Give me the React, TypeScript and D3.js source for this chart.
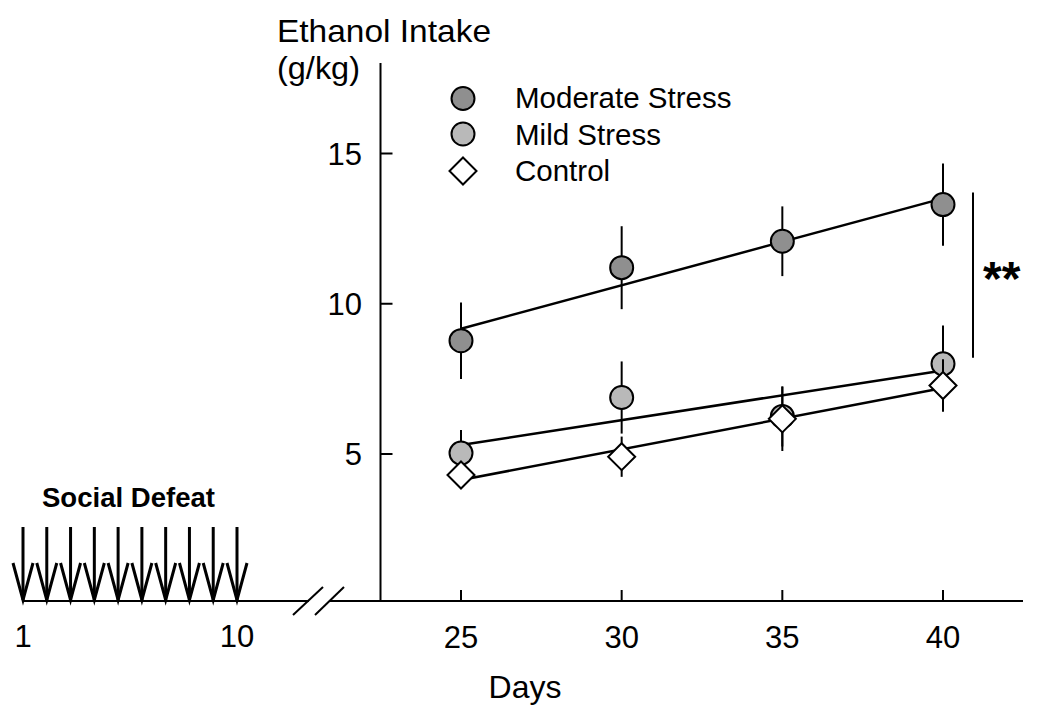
import React from "react";
import * as d3 from "d3";

// ---- data ----
const days = [25, 30, 35, 40];
const moderateMean = [8.77, 11.2, 12.08, 13.3];
const moderateErr = [1.27, 1.38, 1.16, 1.37];
const mildMean = [5.03, 6.88, 6.25, 8.0];
const mildErr = [0.77, 1.2, 1.0, 1.28];
const controlMean = [4.3, 4.91, 6.17, 7.28];
const controlErr = [0.4, 0.67, 1.07, 0.87];
const yTicks = [5, 10, 15];
const xTicks = [25, 30, 35, 40];
const defeatDays = [1, 2, 3, 4, 5, 6, 7, 8, 9, 10];
const defeatLabels = [1, 10];
const legendNames = ["Moderate Stress", "Mild Stress", "Control"];
const sigRange = [8.2, 13.7];

const W = 1050;
const H = 716;
const FONT = "Arial, 'Liberation Sans', Helvetica, sans-serif";

export default function App() {
  const x = d3.scaleLinear().domain([25, 40]).range([461, 943]);
  const y = d3.scaleLinear().domain([5, 15]).range([454, 153.5]);
  const xl = d3.scaleLinear().domain([1, 10]).range([23, 237]);
  const axisY = 601;
  const axisX = 380.5;

  const fit = (vals: number[]) => {
    const mx = d3.mean(days)!;
    const my = d3.mean(vals)!;
    let sxy = 0, sxx = 0;
    days.forEach((d, i) => {
      sxy += (d - mx) * (vals[i] - my);
      sxx += (d - mx) * (d - mx);
    });
    const b = sxy / sxx;
    return (d: number) => my + b * (d - mx);
  };

  const series = [
    { name: legendNames[0], mean: moderateMean, err: moderateErr, fill: "#8f8f8f", shape: "circle" },
    { name: legendNames[1], mean: mildMean, err: mildErr, fill: "#b9b9b9", shape: "circle" },
    { name: legendNames[2], mean: controlMean, err: controlErr, fill: "#ffffff", shape: "diamond" },
  ];

  const line = d3
    .line<[number, number]>()
    .x((d) => x(d[0]))
    .y((d) => y(d[1]));

  const marker = (shape: string, cx: number, cy: number, fill: string, key: string) =>
    shape === "circle" ? (
      <circle key={key} cx={cx} cy={cy} r={11.5} fill={fill} stroke="#000" strokeWidth={2} />
    ) : (
      <path
        key={key}
        d={`M${cx},${cy - 13.5}L${cx + 13.5},${cy}L${cx},${cy + 13.5}L${cx - 13.5},${cy}Z`}
        fill={fill}
        stroke="#000"
        strokeWidth={2}
      />
    );

  return (
    <svg
      width={W}
      height={H}
      style={{ position: "absolute", left: 0, top: 0, background: "#fff" }}
      fontFamily={FONT}
    >
      <rect width={W} height={H} fill="#fff" />
      {/* y axis */}
      <line x1={axisX} y1={63} x2={axisX} y2={axisY + 1} stroke="#000" strokeWidth={2} />
      {yTicks.map((t) => (
        <g key={t}>
          <line x1={axisX} x2={axisX + 12} y1={y(t)} y2={y(t)} stroke="#000" strokeWidth={2} />
          <text x={362} y={y(t)} dy="0.36em" textAnchor="end" fontSize={31}>
            {t}
          </text>
        </g>
      ))}
      {/* x axis main */}
      <line x1={330} x2={1023} y1={axisY} y2={axisY} stroke="#000" strokeWidth={2} />
      {xTicks.map((t) => (
        <g key={t}>
          <line x1={x(t)} x2={x(t)} y1={axisY} y2={axisY - 11} stroke="#000" strokeWidth={2} />
          <text x={x(t)} y={648} textAnchor="middle" fontSize={31}>
            {t}
          </text>
        </g>
      ))}
      {/* left segment */}
      <line x1={22} x2={309} y1={axisY} y2={axisY} stroke="#000" strokeWidth={2} />
      <line x1={293} y1={615} x2={323} y2={587} stroke="#000" strokeWidth={2} />
      <line x1={315} y1={615} x2={344} y2={587} stroke="#000" strokeWidth={2} />
      {defeatLabels.map((d) => (
        <text key={d} x={xl(d)} y={647} textAnchor="middle" fontSize={31}>
          {d}
        </text>
      ))}
      {defeatDays.map((d) => (
        <g key={d} stroke="#000" strokeWidth={3} fill="none">
          <line x1={xl(d)} x2={xl(d)} y1={527} y2={axisY - 1} />
          <path d={`M${xl(d) - 10},${563}L${xl(d)},${axisY - 1}L${xl(d) + 10},${563}`} strokeLinejoin="miter" />
        </g>
      ))}
      <text x={42} y={507} fontSize={28} fontWeight="bold" textLength={173} lengthAdjust="spacingAndGlyphs">
        Social Defeat
      </text>

      {/* titles */}
      <text x={277} y={42} fontSize={31.5} textLength={214} lengthAdjust="spacingAndGlyphs">
        Ethanol Intake
      </text>
      <text x={277} y={79} fontSize={31.5} textLength={83} lengthAdjust="spacingAndGlyphs">
        (g/kg)
      </text>
      <text x={525} y={698} textAnchor="middle" fontSize={32}>
        Days
      </text>

      {/* legend */}
      {series.map((s, i) => {
        const ly = [98.5, 134, 171][i];
        const by = [108, 145, 181][i];
        return (
          <g key={s.name}>
            {marker(s.shape, 463, ly, s.fill, "lg" + i)}
            <text x={515} y={by} fontSize={29.5}>
              {s.name}
            </text>
          </g>
        );
      })}

      {/* regression lines */}
      {series.map((s) => {
        const f = fit(s.mean);
        return (
          <path
            key={"fit" + s.name}
            d={line([
              [25, f(25)],
              [40, f(40)],
            ])!}
            stroke="#000"
            strokeWidth={2.5}
            fill="none"
          />
        );
      })}

      {/* data */}
      {series.map((s) => (
        <g key={"d" + s.name}>
          {days.map((d, i) => (
            <line
              key={"e" + i}
              x1={x(d)}
              x2={x(d)}
              y1={y(s.mean[i] + s.err[i])}
              y2={y(s.mean[i] - s.err[i])}
              stroke="#000"
              strokeWidth={2}
            />
          ))}
          {days.map((d, i) => marker(s.shape, x(d), y(s.mean[i]), s.fill, "m" + i))}
        </g>
      ))}

      {/* significance */}
      <line x1={973} x2={973} y1={y(sigRange[1])} y2={y(sigRange[0])} stroke="#000" strokeWidth={2} />
      <text x={983} y={295} fontSize={48} fontWeight="bold">
        **
      </text>
    </svg>
  );
}
